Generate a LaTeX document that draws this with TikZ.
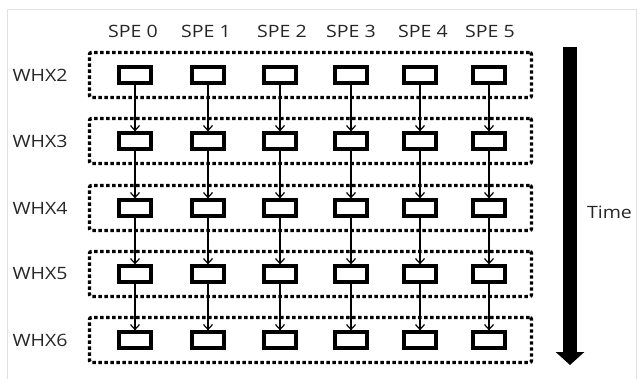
\documentclass[tikz,border=0pt]{standalone}
\usepackage{fontspec}
\newfontfamily\lblfont[FakeStretch=1.15]{Open Sans}
\usetikzlibrary{arrows.meta}
\tikzset{
  pe/.style={draw=black,line width=3.2pt,minimum width=32pt,minimum height=16pt,inner sep=0pt},
  grp/.style={draw=black,line width=3.4pt,dash pattern=on 3.4pt off 2.6pt,rounded corners=2pt,
    minimum width=442pt,minimum height=45pt,inner sep=0pt},
  flow/.style={draw=black,line width=1.2pt,-{Straight Barb[length=5pt,width=9pt]}},
  lbl/.style={font=\lblfont\fontsize{17}{19}\selectfont,text=black!85,inner sep=0pt},
}

\begin{document}
\begin{tikzpicture}[x=1pt,y=-1pt]
\useasboundingbox (0,0) rectangle (637,379);
\draw[black!12,line width=1pt] (7,379)--(7,10)--(636,10)--(636,379);
% one dotted group per window row
\foreach \r/\y/\w in {0/75/WHX2,1/141/WHX3,2/208/WHX4,3/274/WHX5,4/340/WHX6}{
  \node[grp] (g\r) at (310.5,\y) {};
  \node[lbl] (w\r) at (40,\y) {\w};
  \foreach \c/\x in {0/135,1/208,2/280,3/351,4/420,5/489}
    \node[pe] (p\r\c) at (\x,\y) {};
}
\foreach \c/\x in {0/133,1/206,2/282,3/351,4/423,5/490}
  \node[lbl] (s\c) at (\x,31) {SPE \c};
\foreach \r [evaluate=\r as \n using int(\r+1)] in {0,...,3}
  \foreach \c in {0,...,5}
    \draw[flow] (p\r\c) -- (p\n\c);
% time axis
\coordinate (t0) at (570,47);
\coordinate (t1) at (570,365);
\draw[line width=14pt,-{Triangle[length=13pt,width=28pt]}] (t0)--(t1);
\node[lbl] (tm) at (609.5,212) {Time};
\end{tikzpicture}
\end{document}
